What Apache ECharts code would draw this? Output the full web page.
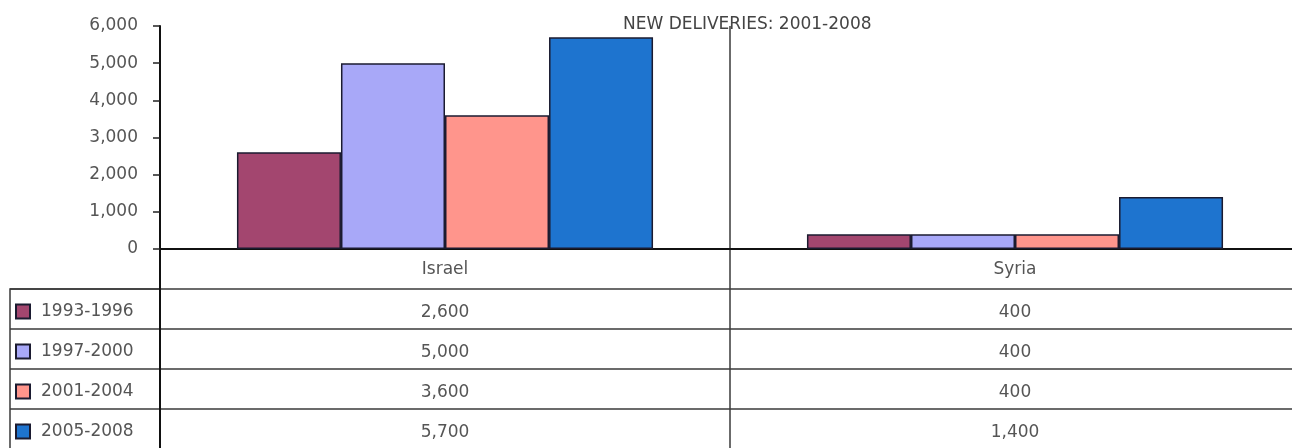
<!DOCTYPE html>
<html>
<head>
<meta charset="utf-8">
<script src="https://cdn.jsdelivr.net/npm/echarts@6/dist/echarts.min.js"></script>
<style>
html,body{margin:0;padding:0;background:#fff;overflow:hidden;width:1292px;height:448px;}
#chart{width:1304px;height:462px;}
</style>
</head>
<body>
<div id="chart"></div>
<script>
// ---- data ----
const titleText = 'NEW DELIVERIES: 2001-2008';
const categories = ['Israel', 'Syria'];
const periods = ['1993-1996', '1997-2000', '2001-2004', '2005-2008'];
const v1993_1996 = [2600, 400];
const v1997_2000 = [5000, 400];
const v2001_2004 = [3600, 400];
const v2005_2008 = [5700, 1400];
const yMin = 0, yMax = 6000, yStep = 1000;

const seriesValues = [v1993_1996, v1997_2000, v2001_2004, v2005_2008];
const colors = ['#A3466F', '#A8A8F8', '#FF958C', '#1E74CF'];

const FONT = 'DejaVu Sans';
const FS = 17;
const TXT = '#555555';
const LINE = '#3a3a3a';
const fmt = v => Number(v).toLocaleString('en-US');

const barSeries = periods.map((p, i) => ({
  name: p,
  type: 'bar',
  xAxisIndex: 0,
  yAxisIndex: 0,
  barGap: '0%',
  barCategoryGap: '27%',
  data: seriesValues[i],
  itemStyle: { color: colors[i], borderColor: '#1b1b30', borderWidth: 1.5 }
}));

const tableSeries = periods.map((p, i) => ({
  name: 'table ' + p,
  type: 'scatter',
  xAxisIndex: 1,
  yAxisIndex: 1,
  symbol: 'rect',
  symbolSize: 1,
  itemStyle: { color: 'rgba(0,0,0,0)' },
  data: seriesValues[i].map((v, c) => [c, i + 1.58, v]),
  label: {
    show: true,
    position: 'inside',
    formatter: prm => fmt(prm.value[2]),
    color: TXT,
    opacity: 1,
    fontFamily: FONT,
    fontSize: FS
  },
  silent: true
}));

const option = {
  animation: false,
  backgroundColor: '#ffffff',
  title: {
    text: titleText,
    left: 618,
    top: 11,
    textStyle: { fontFamily: FONT, fontSize: FS, fontWeight: 'normal', color: '#444' }
  },
  legend: {
    orient: 'vertical',
    left: 15,
    top: 303,
    padding: 0,
    itemWidth: 14,
    itemHeight: 14,
    itemGap: 23,
    icon: 'rect',
    data: periods,
    textStyle: { fontFamily: FONT, fontSize: FS, color: TXT, padding: [0, 0, 0, 6] },
    selectedMode: false
  },
  grid: [
    { left: 160, top: 26, width: 1140, height: 223 },
    { left: 160, top: 249, width: 1140, height: 200 },
    { left: 10, top: 289, width: 150, height: 160, show: true, borderColor: LINE, borderWidth: 1.5 }
  ],
  xAxis: [
    {
      type: 'category', gridIndex: 0, data: categories,
      axisLine: { show: true, lineStyle: { color: '#111', width: 2 } },
      axisTick: { show: false },
      axisLabel: { margin: 12, color: TXT, fontFamily: FONT, fontSize: FS },
      splitLine: { show: true, lineStyle: { color: LINE, width: 1.5 } }
    },
    {
      type: 'category', gridIndex: 1, data: categories,
      axisLine: { show: false }, axisTick: { show: false }, axisLabel: { show: false },
      splitLine: { show: true, lineStyle: { color: LINE, width: 1.5 } }
    },
    {
      type: 'value', gridIndex: 2, min: 0, max: 1,
      axisLine: { show: false }, axisTick: { show: false }, axisLabel: { show: false },
      splitLine: { show: false }
    }
  ],
  yAxis: [
    {
      type: 'value', gridIndex: 0, min: yMin, max: yMax, interval: yStep,
      axisLine: { show: true, lineStyle: { color: '#111', width: 2 } },
      axisTick: { show: true, length: 7, lineStyle: { color: '#222', width: 1.5 } },
      axisLabel: { margin: 22, color: TXT, fontFamily: FONT, fontSize: FS, formatter: v => fmt(v) },
      splitLine: { show: false }
    },
    {
      type: 'value', gridIndex: 1, min: 0, max: 5, interval: 1, inverse: true,
      axisLine: { show: true, lineStyle: { color: '#111', width: 2 } },
      axisTick: { show: false }, axisLabel: { show: false },
      splitLine: { show: true, lineStyle: { color: LINE, width: 1.5 } }
    },
    {
      type: 'value', gridIndex: 2, min: 0, max: 4, interval: 1, inverse: true,
      axisLine: { show: false }, axisTick: { show: false }, axisLabel: { show: false },
      splitLine: { show: true, lineStyle: { color: LINE, width: 1.5 } }
    }
  ],
  series: barSeries.concat(tableSeries)
};

const chart = echarts.init(document.getElementById('chart'), null, { renderer: 'canvas' });
chart.setOption(option);
</script>
</body>
</html>
